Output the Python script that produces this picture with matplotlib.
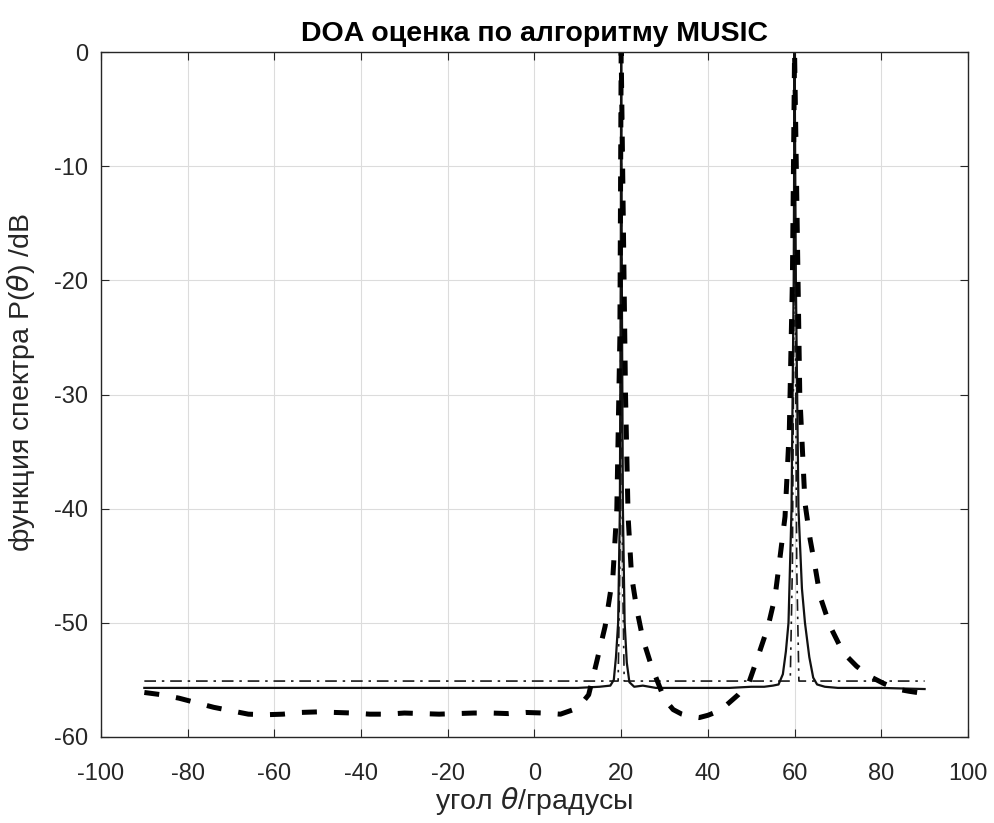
import numpy as np
import matplotlib.pyplot as plt

plt.rcParams['font.family'] = ['Liberation Sans', 'DejaVu Sans']
plt.rcParams['mathtext.fontset'] = 'dejavusans'
plt.rcParams['axes.unicode_minus'] = False

# thick dashed curve (angle, dB)
dash_ang = [-90, -86, -82, -78, -74, -70, -66, -62, -58, -54, -50, -46, -42, -38,
            -34, -30, -26, -22, -18, -14, -10, -6, -2, 2, 6, 9, 11, 12.5, 14.3,
            16.3, 18.1, 19.0, 19.7, 20, 21.0, 21.6, 22.4, 23.6, 25, 27, 30, 32,
            34, 36, 38, 40, 42, 44, 47, 49.5, 51.6, 53.9, 55.5, 56.6, 57.8, 58.8,
            59.5, 60, 61.2, 62.4, 63.6, 64.7, 65.9, 68.2, 71.2, 74.3, 77.4, 80.5,
            83.6, 86.5, 90]
dash_db = [-56.1, -56.3, -56.6, -57.0, -57.4, -57.7, -58.0, -58.05, -58.0, -57.85,
           -57.8, -57.85, -57.9, -58.0, -58.0, -57.9, -57.95, -58.0, -57.95, -57.9,
           -57.9, -57.95, -57.85, -57.9, -58.0, -57.6, -57.0, -56.3, -53.5,
           -50.3, -45.9, -40, -25, 0, -30, -40.7, -45.9, -48.8, -51.4, -53.8, -56.7,
           -57.6, -58.0, -58.2, -58.3, -58.1, -57.8, -57.3, -56.3, -55.2, -52.9,
           -50.3, -47.7, -44.4, -40.7, -33, -20, 0, -30, -39.5, -42.7, -45.0,
           -47.7, -50.3, -52.6, -53.8, -54.7, -55.3, -55.8, -56.0, -56.2]

# solid curve
solid_ang = [-90, -60, -30, 0, 10, 15, 17.5, 18.3, 18.8, 19.3, 19.7, 19.9, 20,
             20.15, 20.4, 20.8, 21.3, 21.9, 23, 25, 28, 35, 45, 50, 53, 55, 56.3,
             57.3, 58.0, 58.6, 59.3, 59.8, 60, 60.3, 60.9, 61.7, 62.4, 63.4, 64.3,
             65.2, 67, 70, 80, 90]
solid_db = [-55.7, -55.7, -55.7, -55.7, -55.7, -55.6, -55.5, -55.0, -53.0, -50.0,
            -40.0, -20.0, 0, -20.0, -40.0, -50.0, -53.5, -55.2, -55.6, -55.5,
            -55.7, -55.7, -55.7, -55.6, -55.6, -55.5, -55.4, -54.5, -52.5, -50.0,
            -40.0, -20.0, 0, -20.0, -40.0, -47.0, -50.0, -53.0, -54.8, -55.4,
            -55.6, -55.7, -55.7, -55.8]

# thin dash-dot curve
dd_ang = [-90, 19.3, 19.7, 19.9, 20, 20.1, 20.3, 20.7, 59.0, 59.5, 59.8, 60,
          60.2, 60.5, 61.0, 90]
dd_db = [-55.1, -55.1, -45.0, -25.0, 0, -25.0, -45.0, -55.1, -55.1, -45.0, -25.0,
         0, -25.0, -45.0, -55.1, -55.1]

fig = plt.figure(figsize=(9.94, 8.23), dpi=100)
ax = fig.add_axes([0.1016, 0.1045, 0.8722, 0.8323])

ax.plot(dd_ang, dd_db, color='#1a1a1a', lw=1.2, ls=(0, (7, 3.5, 1.5, 3.5)))
ax.plot(solid_ang, solid_db, color='#111111', lw=1.6, ls='-')
ax.plot(dash_ang, dash_db, color='black', lw=3.6, ls=(0, (3, 3.4)))

ax.set_xlim(-100, 100)
ax.set_ylim(-60, 0)
ax.set_xticks(np.arange(-100, 101, 20))
ax.set_yticks(np.arange(-60, 1, 10))
ax.grid(True, color='#dcdcdc', lw=0.8)
ax.set_axisbelow(True)
ax.tick_params(direction='in', top=True, right=True, labelsize=17,
               colors='#262626', length=6, pad=9)
ax.tick_params(axis='x', pad=19)
for s in ax.spines.values():
    s.set_color('#262626')
    s.set_linewidth(1.0)

ax.set_title('DOA оценка по алгоритму MUSIC', fontsize=20.5, fontweight='bold', pad=8)
ax.set_xlabel('угол $\\theta$/градусы', fontsize=20.5, color='#262626', labelpad=0)
ax.set_ylabel('функция спектра P($\\theta$) /dB', fontsize=20.5, color='#262626')
ax.yaxis.set_label_coords(-0.0738, 0.518)

fig.savefig('out.png', dpi=100)
